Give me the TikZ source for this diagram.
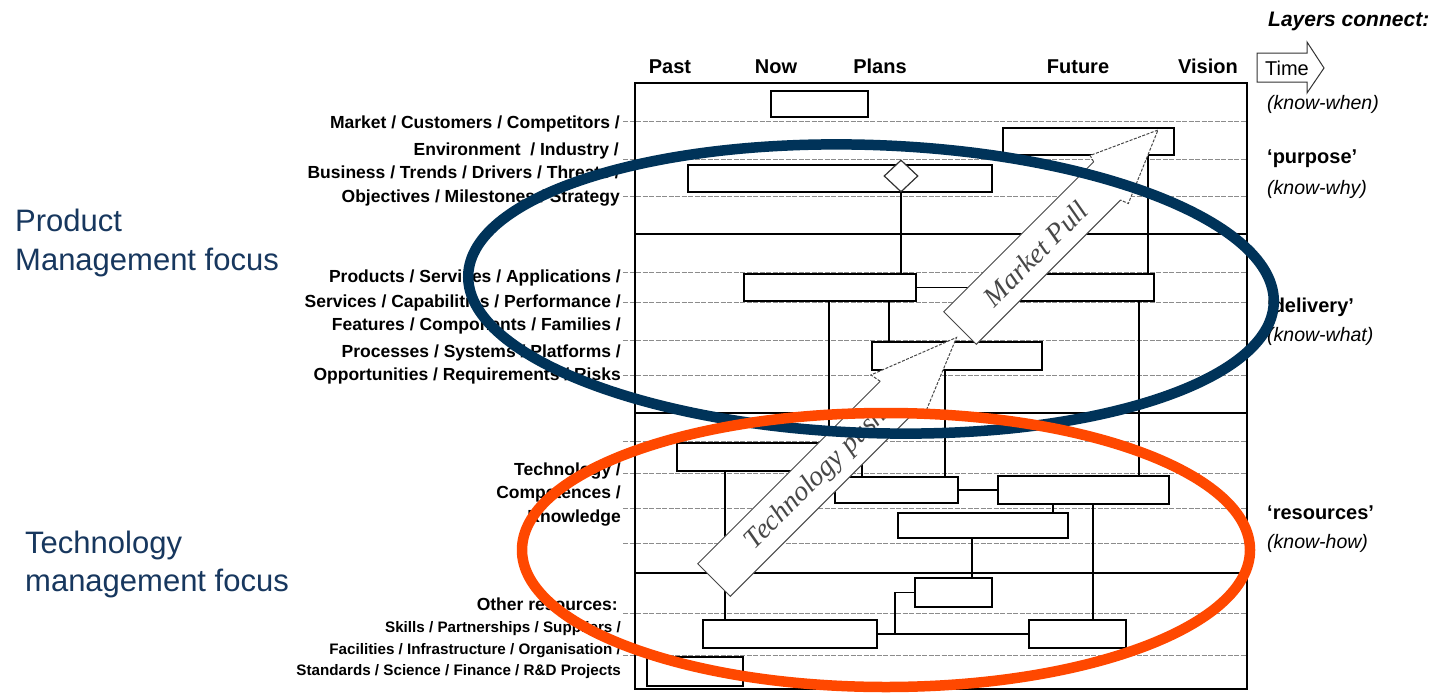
\documentclass[tikz,border=0pt]{standalone}
\usepackage{fontspec}
\setmainfont{Liberation Sans}
\newfontfamily\arrowfont{Liberation Serif}
\usetikzlibrary{shapes.geometric}

\definecolor{navy}{RGB}{0,51,89}
\definecolor{flame}{RGB}{255,72,0}
\definecolor{focusblue}{RGB}{23,55,94}

\tikzset{
  framebox/.style={draw=black, line width=1.4pt, inner sep=0pt},
  rmbox/.style={draw=black, fill=white, line width=1.4pt, inner sep=0pt},
  milestone/.style={shape=diamond, draw=black!80, fill=white, line width=1.2pt, inner sep=0pt, aspect=1},
  link/.style={draw=black, line width=1.4pt},
  gridline/.style={draw=black!45, line width=0.9pt, dash pattern=on 5pt off 1.5pt},
  layersep/.style={draw=black, line width=1.4pt},
  layerlabel/.style={font=\bfseries\fontsize{17.5}{21}\selectfont, anchor=base east, inner sep=0pt},
  smalllabel/.style={font=\bfseries\fontsize{15.2}{18}\selectfont, anchor=base east, inner sep=0pt},
  colhead/.style={font=\bfseries\fontsize{20}{24}\selectfont, anchor=base, inner sep=0pt},
  sidetag/.style={font=\bfseries\fontsize{20}{24}\selectfont, anchor=base west, inner sep=0pt},
  sidenote/.style={font=\itshape\fontsize{19.5}{23}\selectfont, anchor=base west, inner sep=0pt},
  focus/.style={font=\fontsize{31}{37}\selectfont, text=focusblue, anchor=base west, inner sep=0pt},
  arrowedge/.style={draw=black!72, line width=1pt},
  arrowhead/.style={draw=black!72, line width=1pt, dash pattern=on 3pt off 1.5pt},
  arrowtext/.style={font=\arrowfont\itshape\fontsize{28}{30}\selectfont, text=black!72, rotate=45, inner sep=0pt},
  ring/.style={line width=10.5pt},
}

\begin{document}
\begin{tikzpicture}[x=1pt,y=-1pt]
\fill[white] (0,0) rectangle (1445,696);
\useasboundingbox (0,0) rectangle (1445,696);

% ---- roadmap frame, sub-layer grid and layer separators
\foreach \yy in {121,159,196,272,302,340,375,441,473,508,543,613,655}
  \draw[gridline] (623,\yy) -- (1247,\yy);
\foreach \yy in {234,413,573}
  \draw[layersep] (635,\yy) -- (1247,\yy);
\node[framebox, minimum width=612pt, minimum height=606pt] (frame) at (941,386) {};

% ---- time axis
\node[colhead] (past)   at (670,73) {Past};
\node[colhead] (now)    at (776,73) {Now};
\node[colhead] (plans)  at (880,73) {Plans};
\node[colhead] (future) at (1078,73) {Future};
\node[colhead] (vision) at (1208,73) {Vision};

\node[font=\bfseries\itshape\fontsize{21}{25}\selectfont, anchor=base west, inner sep=0pt] (layers) at (1268,27) {Layers connect:};
\draw[draw=black!80, line width=1pt, fill=white] (1257,53) -- (1307,53) -- (1307,42) -- (1324,68) -- (1307,93) -- (1307,82) -- (1257,82) -- cycle;
\node[font=\fontsize{20}{24}\selectfont, inner sep=0pt, anchor=base] (time) at (1287,75) {Time};
\node[sidenote] (knowwhen) at (1267,109) {(know-when)};
\node[sidetag]  (purpose)  at (1267,163) {‘purpose’};
\node[sidenote] (knowwhy)  at (1267,194) {(know-why)};
\node[sidetag]  (delivery) at (1267,312) {‘delivery’};
\node[sidenote] (knowwhat) at (1267,341) {(know-what)};
\node[sidetag]  (resources) at (1267,519) {‘resources’};
\node[sidenote] (knowhow)  at (1267,548) {(know-how)};

% ---- layer descriptions
\node[layerlabel] (l1a) at (620,128) {Market / Customers / Competitors /};
\node[layerlabel] (l1b) at (619,155) {Environment\ \ / Industry /};
\node[layerlabel] (l1c) at (620,178) {Business / Trends / Drivers / Threats /};
\node[layerlabel] (l1d) at (620,202) {Objectives / Milestones / Strategy};

\node[layerlabel] (l2a) at (621,282) {Products / Services / Applications /};
\node[layerlabel] (l2b) at (621,307) {Services / Capabilities / Performance /};
\node[layerlabel] (l2c) at (621,330) {Features / Components / Families /};
\node[layerlabel] (l2d) at (621,357) {Processes / Systems / Platforms /};
\node[layerlabel] (l2e) at (621,380) {Opportunities / Requirements / Risks};

\node[layerlabel] (l3a) at (621,475) {Technology /};
\node[layerlabel] (l3b) at (621,498) {Competences /};
\node[layerlabel] (l3c) at (621,522) {Knowledge};

\node[layerlabel] (l4a) at (618,610) {Other resources:};
\node[smalllabel] (l4b) at (621,632) {Skills / Partnerships / Suppliers /};
\node[smalllabel] (l4c) at (621,654) {Facilities / Infrastructure / Organisation /};
\node[smalllabel] (l4d) at (621,675) {Standards / Science / Finance / R\&D Projects};

% ---- focus captions
\node[focus] (pm1) at (15,231) {Product};
\node[focus] (pm2) at (15,270) {Management focus};
\node[focus] (tm1) at (25,553) {Technology};
\node[focus] (tm2) at (25,591) {management focus};

% ---- roadmap bars
\node[rmbox, minimum width=97pt,  minimum height=26pt] (b1)  at (819.5,104) {};
\node[rmbox, minimum width=171pt, minimum height=27pt] (b2)  at (1088.5,141.5) {};
\node[rmbox, minimum width=304pt, minimum height=27pt] (b3)  at (840,178.5) {};
\node[milestone, minimum width=34pt, minimum height=32pt] (dia) at (901,176) {};
\node[rmbox, minimum width=172pt, minimum height=27pt] (b4)  at (830,287.5) {};
\node[rmbox, minimum width=149pt, minimum height=27pt] (b5)  at (1079.5,287.5) {};
\node[rmbox, minimum width=170pt, minimum height=28pt] (b6)  at (957,356) {};
\node[rmbox, minimum width=163pt, minimum height=28pt] (tb1) at (758.5,457) {};
\node[rmbox, minimum width=123pt, minimum height=26pt] (tb2) at (896.5,490) {};
\node[rmbox, minimum width=171pt, minimum height=28pt] (tb3) at (1083.5,490) {};
\node[rmbox, minimum width=170pt, minimum height=25pt] (tb4) at (983,525.5) {};
\node[rmbox, minimum width=77pt,  minimum height=29pt] (ob1) at (953.5,592.5) {};
\node[rmbox, minimum width=174pt, minimum height=28pt] (ob2) at (790,634) {};
\node[rmbox, minimum width=97pt,  minimum height=28pt] (ob3) at (1077.5,634) {};
\node[rmbox, minimum width=96pt,  minimum height=29pt] (ob4) at (695,671.5) {};

% ---- link columns
\coordinate (c725)  at (725,0);
\coordinate (c829)  at (829,0);
\coordinate (c862)  at (862,405);
\coordinate (c889)  at (889,0);
\coordinate (c895)  at (895,0);
\coordinate (c945)  at (945,0);
\coordinate (c972)  at (972,0);
\coordinate (c1053) at (1053,0);
\coordinate (c1093) at (1093,0);
\coordinate (c1139) at (1139,0);
\coordinate (c1148) at (1148,0);

% ---- links between bars
\draw[link] (dia.south) -- (b4.north -| dia.south);
\draw[link] (b2.south -| c1148) -- (b5.north -| c1148);
\draw[link] (b4.east) -- (b5.west);
\draw[link] (b4.south -| c829) -- (tb1.north -| c829);
\draw[link] (b4.south -| c889) -- (b6.north -| c889);
\draw[link] (b6.south -| c945) -- (tb2.north -| c945);
\draw[link] (c862) -- (tb2.north -| c862);
\draw[link] (b5.south -| c1139) -- (tb3.north -| c1139);
\draw[link] (tb1.south -| c725) -- (ob2.north -| c725);
\draw[link] (tb2.east) -- (tb3.west);
\draw[link] (tb3.south -| c1053) -- (tb4.north -| c1053);
\draw[link] (tb4.south -| c972) -- (ob1.north -| c972);
\draw[link] (tb3.south -| c1093) -- (ob3.north -| c1093);
\draw[link] (ob2.east) -- (ob3.west);
\draw[link] (ob2.east -| c895) |- (ob1.west);

% ---- technology push arrow
\begin{scope}[shift={(714,580)}, rotate=45]
  \fill[white] (0,-23) -- (258,-23) -- (256,-34) -- (343,0) -- (268,31) -- (264,23) -- (0,23) -- cycle;
  \draw[arrowedge] (258,-23) -- (0,-23) -- (0,23) -- (264,23);
  \draw[arrowhead] (258,-23) -- (256,-34) -- (343,0) -- (268,31) -- (264,23);
  \node[arrowtext] (techpush) at (144,1) {Technology push};
\end{scope}

% ---- market pull arrow
\begin{scope}[shift={(960,328)}, rotate=45]
  \fill[white] (0,-23) -- (212,-23) -- (214,-30) -- (280,0) -- (207,31) -- (204,23) -- (0,23) -- cycle;
  \draw[arrowedge] (212,-23) -- (0,-23) -- (0,23) -- (204,23);
  \draw[arrowhead] (212,-23) -- (214,-30) -- (280,0) -- (207,31) -- (204,23);
  \node[arrowtext] (marketpull) at (106,1) {Market Pull};
\end{scope}

% ---- management focus rings
\draw[navy, ring, rotate around={-2:(871,289)}] (871,289) ellipse [x radius=403pt, y radius=144pt];
\draw[flame, ring] (886,550) ellipse [x radius=364pt, y radius=137pt];

\end{tikzpicture}
\end{document}
